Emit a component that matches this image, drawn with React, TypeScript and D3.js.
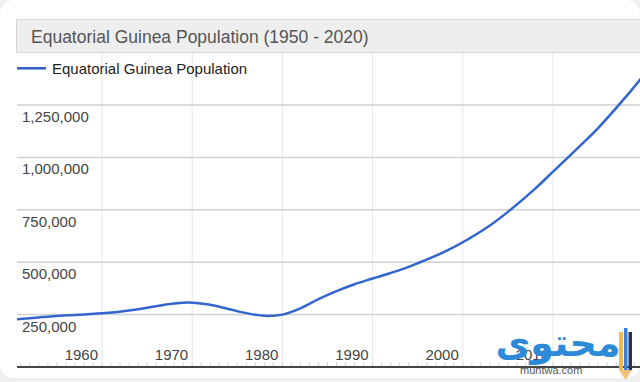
import React from "react";
import * as d3 from "d3";

const years = [1950, 1952, 1955, 1960, 1963, 1966, 1968, 1970, 1972, 1974, 1976, 1978, 1980, 1982, 1984, 1986, 1988, 1990, 1993, 1995, 1998, 2000, 2003, 2005, 2008, 2010, 2013, 2015, 2018, 2020];
const population = [226000, 233000, 243000, 256000, 270000, 290000, 303000, 307000, 297000, 277000, 257000, 244000, 250000, 280000, 324000, 362000, 395000, 422000, 462000, 495000, 550000, 595000, 675000, 740000, 850000, 932000, 1055000, 1140000, 1285000, 1390000];
const yTicks = [250000, 500000, 750000, 1000000, 1250000];
const xTicks = [1960, 1970, 1980, 1990, 2000, 2010];
const minorYears = d3.range(1951, 2021);
const title = "Equatorial Guinea Population (1950 - 2020)";
const seriesName = "Equatorial Guinea Population";

const W = 640;
const H = 382;
const FONT = "Arial, 'Liberation Sans', sans-serif";

export default function App() {
  const plotLeft = 17;
  const plotRight = 640;
  const x = d3.scaleLinear().domain([1950, 2020]).range([11.8, 643.2]);
  const y = d3.scaleLinear().domain([0, 1500000]).range([367, 52.6]);
  const data = years.map((yr, i) => ({ yr, v: population[i] }));
  const line = d3
    .line<{ yr: number; v: number }>()
    .x((d) => x(d.yr))
    .y((d) => y(d.v))
    .curve(d3.curveCatmullRom.alpha(0.5));
  const fmt = d3.format(",");

  return (
    <svg
      width={W}
      height={H}
      style={{ position: "absolute", left: 0, top: 0, display: "block" }}
      fontFamily={FONT}
    >
      <defs>
        <clipPath id="plotClip">
          <rect x={plotLeft} y={52} width={plotRight - plotLeft} height={320} />
        </clipPath>
      </defs>
      <rect x={0} y={0} width={W} height={H} fill="#efefef" />
      <rect x={0} y={0} width={W} height={378} rx={14} fill="#ffffff" />

      {/* title box */}
      <rect x={16.5} y={19.5} width={640} height={33} fill="#eeeeee" stroke="#d6d6d6" />
      <text x={31} y={43} fontSize={17.5} fill="#555555">
        {title}
      </text>

      {/* vertical gridlines */}
      {xTicks.map((t) => (
        <line key={"v" + t} x1={x(t)} x2={x(t)} y1={53} y2={367} stroke="#e6e6e6" strokeWidth={1} />
      ))}

      {/* horizontal gridlines */}
      {yTicks.map((t) => (
        <line key={"h" + t} x1={plotLeft} x2={plotRight} y1={y(t)} y2={y(t)} stroke="#d0d0d0" strokeWidth={1.5} />
      ))}

      {/* legend */}
      <line x1={17} x2={46} y1={68.3} y2={68.3} stroke="#2f5fc4" strokeWidth={2.5} />
      <text x={52} y={74} fontSize={15} fill="#222222">
        {seriesName}
      </text>

      {/* y labels */}
      {yTicks.map((t) => (
        <text key={"yl" + t} x={22} y={y(t) + 17} fontSize={15} fill="#444444">
          {fmt(t)}
        </text>
      ))}

      {/* minor ticks */}
      {minorYears.map((yr) => (
        <line key={"m" + yr} x1={x(yr)} x2={x(yr)} y1={362.5} y2={366} stroke="#d4d4d4" strokeWidth={1} />
      ))}

      {/* x labels */}
      {xTicks.map((t) => (
        <text key={"xl" + t} x={x(t) - 4} y={360} fontSize={15} fill="#444444" textAnchor="end">
          {t}
        </text>
      ))}

      {/* axis */}
      <line x1={plotLeft} x2={plotRight} y1={367} y2={367} stroke="#444444" strokeWidth={2} />

      {/* series */}
      <g clipPath="url(#plotClip)">
        <path d={line(data) || ""} fill="none" stroke="#3366cc" strokeWidth={2.5} strokeLinejoin="round" />
      </g>

      {/* watermark */}
      <g>
        <text
          x={558}
          y={356}
          fontSize={38}
          fontWeight="bold"
          fill="#2d8ad8"
          textAnchor="middle"
          fontFamily="'DejaVu Sans', sans-serif"
        >
          محتوى
        </text>
        <rect x={619} y={332} width={4} height={38} fill="#f2b84b" />
        <rect x={624} y={328} width={3.5} height={42} fill="#3b7fd6" />
        <rect x={628.5} y={332} width={3.5} height={38} fill="#23345f" />
        <path d="M619,370 L632,370 L625.5,380 Z" fill="#f2c27a" />
        <text x={520} y={374} fontSize={11} fill="#555555">
          muhtwa.com
        </text>
      </g>
    </svg>
  );
}
